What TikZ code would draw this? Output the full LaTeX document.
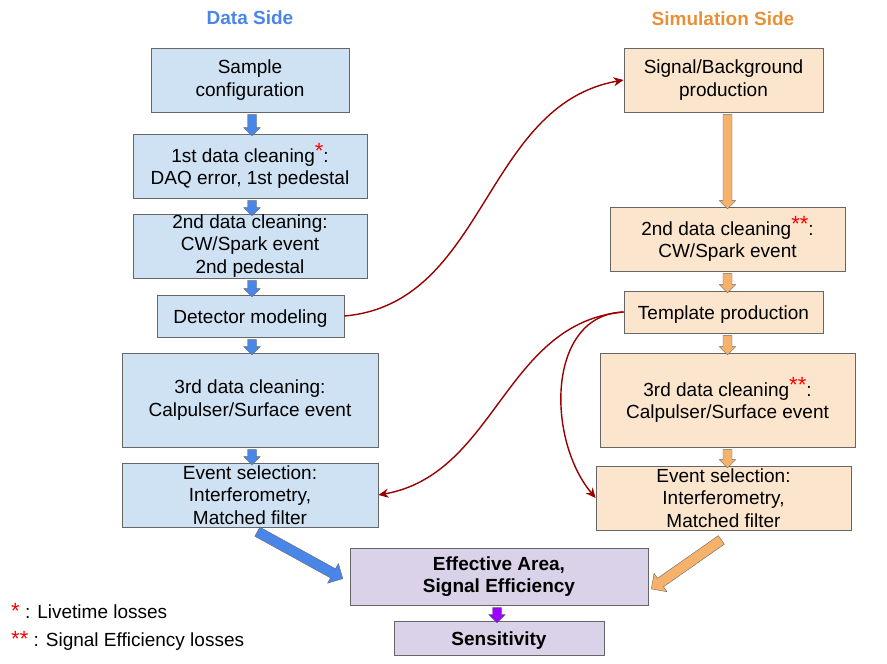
\documentclass[tikz,border=0pt]{standalone}
\usepackage{fontspec}
\setmainfont{Liberation Sans}
\usetikzlibrary{shapes.arrows,calc,arrows.meta}

\definecolor{databg}{HTML}{CFE2F3}
\definecolor{simbg}{HTML}{FCE5CD}
\definecolor{resbg}{HTML}{D9D2E9}
\definecolor{boxline}{HTML}{666666}
\definecolor{arrblue}{HTML}{4A86E8}
\definecolor{arrorange}{HTML}{F6B26B}
\definecolor{arrpurple}{HTML}{9900FF}
\definecolor{darkred}{HTML}{990000}
\definecolor{titleblue}{HTML}{4A86E8}
\definecolor{titleorange}{HTML}{E69138}

\tikzset{
  box/.style={draw=boxline, line width=0.8pt, align=center, inner sep=0pt,
    font=\fontsize{19}{22.5}\selectfont,
    execute at begin node={\rule{0pt}{19pt}}},
  databox/.style={box, fill=databg},
  simbox/.style={box, fill=simbg},
  resbox/.style={box, fill=resbg, font=\fontsize{19}{22.5}\selectfont\bfseries},
  nostrut/.style={execute at begin node={}},
  fatarr/.style={single arrow, draw=boxline, line width=0.4pt, inner xsep=0pt,
    single arrow head indent=0pt},
  smallarr/.style={fatarr, inner ysep=4.3pt, single arrow head extend=3.7pt},
  bigarr/.style={fatarr, inner ysep=5pt, single arrow head extend=6pt},
  redarr/.style={draw=darkred, line width=1.4pt, -{Stealth[length=10pt,width=9pt]}},
  title/.style={font=\fontsize{19}{22}\selectfont\bfseries},
  legend/.style={anchor=base west, inner sep=0pt, font=\fontsize{19}{22}\selectfont}
}

% block arrow as a node between two points: style, name, from, to
\newcommand{\fatarrow}[4]{%
  \path let \p1=(#3), \p2=(#4), \n1={atan2(\y2-\y1,\x2-\x1)},
    \n2={veclen(\x2-\x1,\y2-\y1)} in
    node[#1, rotate=\n1, minimum height=\n2] (#2) at ($(#3)!0.5!(#4)$) {};}
\newcommand{\rstar}{\raisebox{4pt}{\textcolor{red}{\fontsize{22}{22}\selectfont*}}}

\begin{document}
\begin{tikzpicture}[x=1pt,y=-1pt]
    \useasboundingbox (0,0) rectangle (887,664);

    % titles
    \node[title, text=titleblue] (dtitle) at (250,18) {Data Side};
    \node[title, text=titleorange] (stitle) at (723,19) {Simulation Side};

    % data side
    \node[databox, minimum width=198, minimum height=64] (sample) at (250,80) {Sample\\configuration};
    \node[databox, minimum width=234, minimum height=64] (clean1) at (250,166) {1st data cleaning\rstar:\\DAQ error, 1st pedestal};
    \node[databox, minimum width=234, minimum height=64] (clean2) at (250,246) {2nd data cleaning:\\CW/Spark event\\2nd pedestal};
    \node[databox, minimum width=187, minimum height=42] (detmod) at (250.5,316) {Detector modeling};
    \node[databox, minimum width=256, minimum height=94] (clean3) at (250,400) {3rd data cleaning:\\Calpulser/Surface event};
    \node[databox, nostrut, minimum width=256, minimum height=64] (dsel) at (250,495) {Event selection:\\Interferometry,\\Matched filter};

    % simulation side
    \node[simbox, minimum width=199, minimum height=64] (sigbg) at (723.5,80) {Signal/Background\\production};
    \node[simbox, minimum width=235, minimum height=64] (sclean2) at (727.5,239) {2nd data cleaning\rstar\rstar:\\CW/Spark event};
    \node[simbox, minimum width=199, minimum height=42] (templ) at (723.5,312) {Template production};
    \node[simbox, minimum width=255, minimum height=94] (sclean3) at (727.5,400) {3rd data cleaning\rstar\rstar:\\Calpulser/Surface event};
    \node[simbox, nostrut, minimum width=255, minimum height=64] (ssel) at (723.5,498) {Event selection:\\Interferometry,\\Matched filter};

    % results
    \node[resbox, minimum width=298, minimum height=57] (eff) at (499,576.5) {Effective Area,\\Signal Efficiency};
    \node[resbox, minimum width=210, minimum height=34] (sens) at (499,638) {Sensitivity};

    % legend
    \node[legend] (leg1) at (11,618) {\textcolor{red}{\fontsize{22}{22}\selectfont*} : Livetime losses};
    \node[legend] (leg2) at (11,646) {\textcolor{red}{\fontsize{22}{22}\selectfont**} : Signal Efficiency losses};

    % block arrows
    \fatarrow{smallarr, fill=arrblue}{a1}{$(sample.south)+(2,0)$}{$(clean1.north)+(2,0)$}
    \fatarrow{smallarr, fill=arrblue}{a2}{$(clean1.south)+(2,0)$}{$(clean2.north)+(2,0)$}
    \fatarrow{smallarr, fill=arrblue}{a3}{$(clean2.south)+(2,0)$}{$(detmod.north)+(1.5,0)$}
    \fatarrow{smallarr, fill=arrblue}{a4}{$(detmod.south)+(1.5,0)$}{$(clean3.north)+(2,0)$}
    \fatarrow{smallarr, fill=arrblue}{a5}{$(clean3.south)+(2,0)$}{$(dsel.north)+(2,0)$}
    \fatarrow{smallarr, fill=arrorange}{b1}{$(sigbg.south)+(4,0)$}{$(sclean2.north)$}
    \fatarrow{smallarr, fill=arrorange}{b2}{$(sclean2.south)$}{$(templ.north)+(4,0)$}
    \fatarrow{smallarr, fill=arrorange}{b3}{$(templ.south)+(4,0)$}{$(sclean3.north)$}
    \fatarrow{smallarr, fill=arrorange}{b4}{$(sclean3.south)$}{$(ssel.north)+(4,0)$}
    \fatarrow{bigarr, fill=arrblue}{c1}{$(dsel.south)+(5,3)$}{$(eff.west)+(-9,1)$}
    \fatarrow{bigarr, fill=arrorange}{c2}{$(ssel.south)+(0,8)$}{$(eff.east)+(5,11)$}
    \fatarrow{smallarr, fill=arrpurple}{c3}{$(eff.south)+(-2,0)$}{$(sens.north)+(-2,0)$}

    % red links
    \draw[redarr] (detmod.east) to[out=5, in=190] (sigbg.west);
    \draw[redarr] (templ.west) to[out=185, in=10] (dsel.east);
    \draw[redarr] (templ.west) to[out=182, in=130, looseness=1.05] (ssel.west);
\end{tikzpicture}
\end{document}
